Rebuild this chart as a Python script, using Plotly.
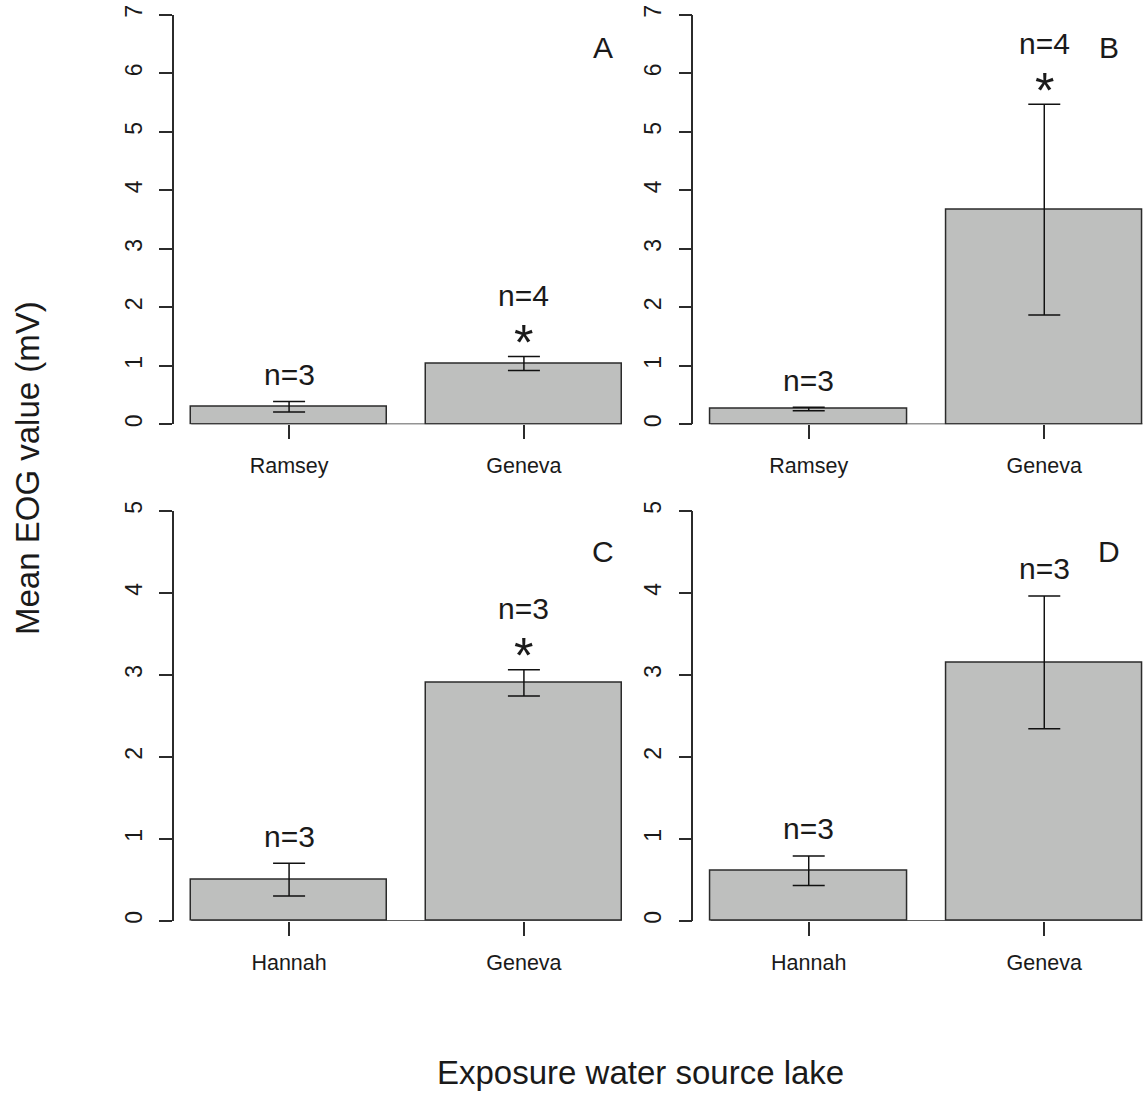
import plotly.graph_objects as go

# ---------------- data ----------------
panel_letters = ["A", "B", "C", "D"]
lakes_top = ["Ramsey", "Geneva"]
lakes_bottom = ["Hannah", "Geneva"]

means_A = [0.30, 1.04]
se_A = [0.09, 0.12]
n_A = ["n=3", "n=4"]
star_A = [False, True]

means_B = [0.26, 3.67]
se_B = [0.03, 1.80]
n_B = ["n=3", "n=4"]
star_B = [False, True]

means_C = [0.50, 2.90]
se_C = [0.20, 0.16]
n_C = ["n=3", "n=3"]
star_C = [False, True]

means_D = [0.61, 3.15]
se_D = [0.18, 0.81]
n_D = ["n=3", "n=3"]
star_D = [False, False]

yticks_top = [0, 1, 2, 3, 4, 5, 6, 7]
yticks_bottom = [0, 1, 2, 3, 4, 5]

# ---------------- style ----------------
W, H = 1144, 1093
FONT = "Liberation Sans, Arial, Helvetica, sans-serif"
BAR_FILL = "#bebfbe"
EDGE = "#2b2b2b"
TXT = "#1a1a1a"

# R barplot geometry: width 1, space 0.2
bar_w = 1.0
space = 0.2
centers = [space + bar_w / 2 + i * (bar_w + space) for i in range(2)]
bar_left = space
bar_right = space + 2 * bar_w + space

panels = [
    dict(means=means_A, se=se_A, n=n_A, star=star_A, cats=lakes_top, yt=yticks_top,
         xpx=(174.0, 639.0), xr=[0.112, 2.488], ypx=(424.3, 14.7), yr=[0, 7], letter_y=0.921),
    dict(means=means_B, se=se_B, n=n_B, star=star_B, cats=lakes_top, yt=yticks_top,
         xpx=(693.3, 1144.0), xr=[0.112, 2.408], ypx=(424.3, 14.7), yr=[0, 7], letter_y=0.921),
    dict(means=means_C, se=se_C, n=n_C, star=star_C, cats=lakes_bottom, yt=yticks_bottom,
         xpx=(174.0, 639.0), xr=[0.112, 2.488], ypx=(920.7, 510.7), yr=[0, 5], letter_y=0.90),
    dict(means=means_D, se=se_D, n=n_D, star=star_D, cats=lakes_bottom, yt=yticks_bottom,
         xpx=(693.3, 1144.0), xr=[0.112, 2.408], ypx=(920.7, 510.7), yr=[0, 5], letter_y=0.90),
]

fig = go.Figure()
annotations = []
layout_axes = {}

for i, p in enumerate(panels):
    k = "" if i == 0 else str(i + 1)
    xa, ya = "x" + k, "y" + k
    # baseline under bars
    fig.add_trace(go.Scatter(x=[bar_left, bar_right], y=[0, 0], mode="lines",
                             line=dict(color=EDGE, width=1.5), xaxis=xa, yaxis=ya,
                             showlegend=False, hoverinfo="skip"))
    fig.add_trace(go.Bar(x=centers, y=p["means"], width=bar_w,
                         marker=dict(color=BAR_FILL, line=dict(color=EDGE, width=1.5)),
                         error_y=dict(type="data", array=p["se"], visible=True,
                                      color="#111111", thickness=1.5, width=16),
                         xaxis=xa, yaxis=ya, showlegend=False))
    x0, x1 = p["xpx"]
    yb, yt = p["ypx"]
    layout_axes["xaxis" + k] = dict(
        domain=[x0 / W, x1 / W], range=p["xr"], anchor=ya, automargin=False,
        showgrid=False, zeroline=False, showline=False,
        tickmode="array", tickvals=centers, ticktext=p["cats"],
        ticks="outside", ticklen=14, tickwidth=1.5, tickcolor=EDGE,
        ticklabelstandoff=8,
        tickfont=dict(family=FONT, size=21.5, color=TXT), fixedrange=True)
    layout_axes["yaxis" + k] = dict(
        domain=[1 - yb / H, 1 - yt / H], range=p["yr"], anchor=xa, automargin=False,
        showgrid=False, zeroline=False, showline=True, linecolor=EDGE, linewidth=1.5,
        tickmode="array", tickvals=p["yt"], ticktext=[str(v) for v in p["yt"]],
        ticks="outside", ticklen=13, tickwidth=1.5, tickcolor=EDGE,
        tickangle=-90, ticklabelstandoff=8,
        tickfont=dict(family=FONT, size=23, color=TXT), fixedrange=True)
    # n labels and significance stars
    for j in range(2):
        top = p["means"][j] + p["se"][j]
        if p["star"][j]:
            annotations.append(dict(x=centers[j], y=top, xref=xa, yref=ya, text="*",
                                    showarrow=False, yanchor="middle", yshift=13.5,
                                    font=dict(family=FONT, size=50, color=TXT)))
            annotations.append(dict(x=centers[j], y=top, xref=xa, yref=ya, text=p["n"][j],
                                    showarrow=False, yanchor="middle", yshift=61,
                                    font=dict(family=FONT, size=30, color=TXT)))
        else:
            annotations.append(dict(x=centers[j], y=top, xref=xa, yref=ya, text=p["n"][j],
                                    showarrow=False, yanchor="middle", yshift=27,
                                    font=dict(family=FONT, size=30, color=TXT)))
    annotations.append(dict(x=0.922, y=p["letter_y"], xref=xa + " domain", yref=ya + " domain",
                            text=panel_letters[i], showarrow=False,
                            xanchor="center", yanchor="middle",
                            font=dict(family=FONT, size=30, color=TXT)))

annotations.append(dict(x=27 / W, y=1 - 468 / H, xref="paper", yref="paper",
                        text="Mean EOG value (mV)", textangle=-90, showarrow=False,
                        xanchor="center", yanchor="middle",
                        font=dict(family=FONT, size=33, color=TXT)))
annotations.append(dict(x=640 / W, y=1 - 1072 / H, xref="paper", yref="paper",
                        text="Exposure water source lake", showarrow=False,
                        xanchor="center", yanchor="middle",
                        font=dict(family=FONT, size=33, color=TXT)))

fig.update_layout(width=W, height=H, margin=dict(l=0, r=0, t=0, b=0, autoexpand=False),
                  paper_bgcolor="white", plot_bgcolor="white",
                  annotations=annotations, bargap=0, **layout_axes)

fig.write_html("out.html", config={"displayModeBar": False})
